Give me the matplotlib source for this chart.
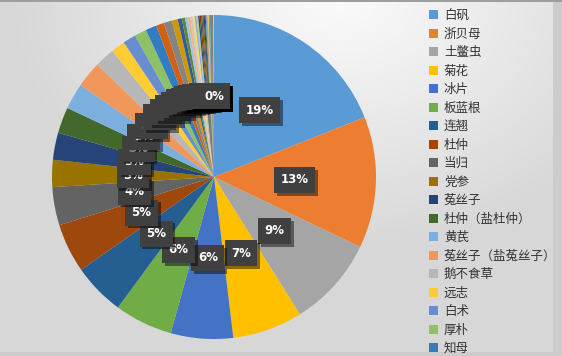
import matplotlib
matplotlib.use("Agg")
import matplotlib.pyplot as plt
import matplotlib.patheffects as pe
import numpy as np

plt.rcParams['font.family'] = ['Noto Sans CJK SC', 'DejaVu Sans']

# named slices (shown in the legend)
herbs = ['白矾', '浙贝母', '土鳖虫', '菊花', '冰片', '板蓝根', '连翘', '杜仲', '当归',
         '党参', '菟丝子', '杜仲（盐杜仲）', '黄芪', '菟丝子（盐菟丝子）', '鹅不食草',
         '远志', '白术', '厚朴', '知母']
herb_share = [19.0, 13.1, 9.0, 7.0, 6.2, 5.8, 5.2, 4.9, 3.8,
              2.7, 2.7, 2.6, 2.6, 2.6, 2.0,
              1.4, 1.3, 1.2, 1.1]
# slices past the legend's visible end
minor_share = [0.8, 0.8, 0.6,
               0.4, 0.33, 0.28, 0.25, 0.22, 0.2, 0.18, 0.17, 0.15, 0.14,
               0.13, 0.12, 0.11, 0.1, 0.09, 0.08, 0.08, 0.07, 0.07, 0.06,
               0.06, 0.05, 0.05, 0.04, 0.04, 0.03, 0.03, 0.03, 0.02, 0.02]

# excel office palette and its shade variants
palette = ['#5B9BD5', '#ED7D31', '#A5A5A5', '#FFC000', '#4472C4', '#70AD47',
           '#255E91', '#9E480E', '#636363', '#997300', '#264478', '#43682B',
           '#7CAFDD', '#F1975A', '#B7B7B7', '#FFCD33', '#698ED0', '#8CC168',
           '#327DC2', '#D26012', '#848484', '#CC9A00', '#335AA1', '#5A8A39',
           '#9DC3E6', '#F4B183', '#C9C9C9', '#FFD966', '#8FAADC', '#A9D18E',
           '#1F4E79', '#843C0C', '#525252', '#7F6000', '#203864', '#385723']

values = herb_share + minor_share
colors = [palette[i % len(palette)] for i in range(len(values))]

W, H = 562, 356
fig = plt.figure(figsize=(W / 100, H / 100), dpi=100)

# background gradient
bg = fig.add_axes([0, 0, 1, 1])
bg.axis('off')
yy, xx = np.mgrid[0:H, 0:W]
d = np.hypot(xx - 340, (yy + 5) * 1.3)
v = 0.985 - 0.14 * np.clip(d / 330, 0, 1)
v[(xx >= 553) | (yy >= 352)] = 0.80
v[yy < 2] = 0.62
bg.imshow(np.dstack([v, v, v]), extent=[0, W, H, 0], aspect='auto',
          interpolation='bilinear')
bg.set_xlim(0, W)
bg.set_ylim(H, 0)

# pie
R = 162
cx, cy = 214, 177
ax = fig.add_axes([(cx - 170) / W, (H - cy - 170) / H, 340 / W, 340 / H])
wedges, texts, autotexts = ax.pie(
    values, colors=colors, startangle=90, counterclock=False,
    autopct='%.0f%%', pctdistance=0.5, radius=1,
    wedgeprops=dict(linewidth=0),
    textprops=dict(color='white', fontsize=8.5, fontweight='bold',
                   family='DejaVu Sans'))
ax.set_xlim(-170 / R, 170 / R)
ax.set_ylim(-170 / R, 170 / R)
ax.axis('off')

for t in autotexts:
    t.set_bbox(dict(boxstyle='square,pad=0.55', fc='#404040', ec='none'))
    t.get_bbox_patch().set_path_effects([
        pe.SimplePatchShadow(offset=(2, -2), shadow_rgbFace='black', alpha=0.45),
        pe.Normal()])

fig.legend(wedges[:len(herbs)], herbs, loc='upper left',
           bbox_to_anchor=(424 / W, 1 - 4 / H), frameon=False,
           fontsize=9, handlelength=0.7, handleheight=0.7,
           handletextpad=0.5, labelspacing=0.44, borderaxespad=0,
           labelcolor='#333333')

fig.savefig('out.png', dpi=100)
